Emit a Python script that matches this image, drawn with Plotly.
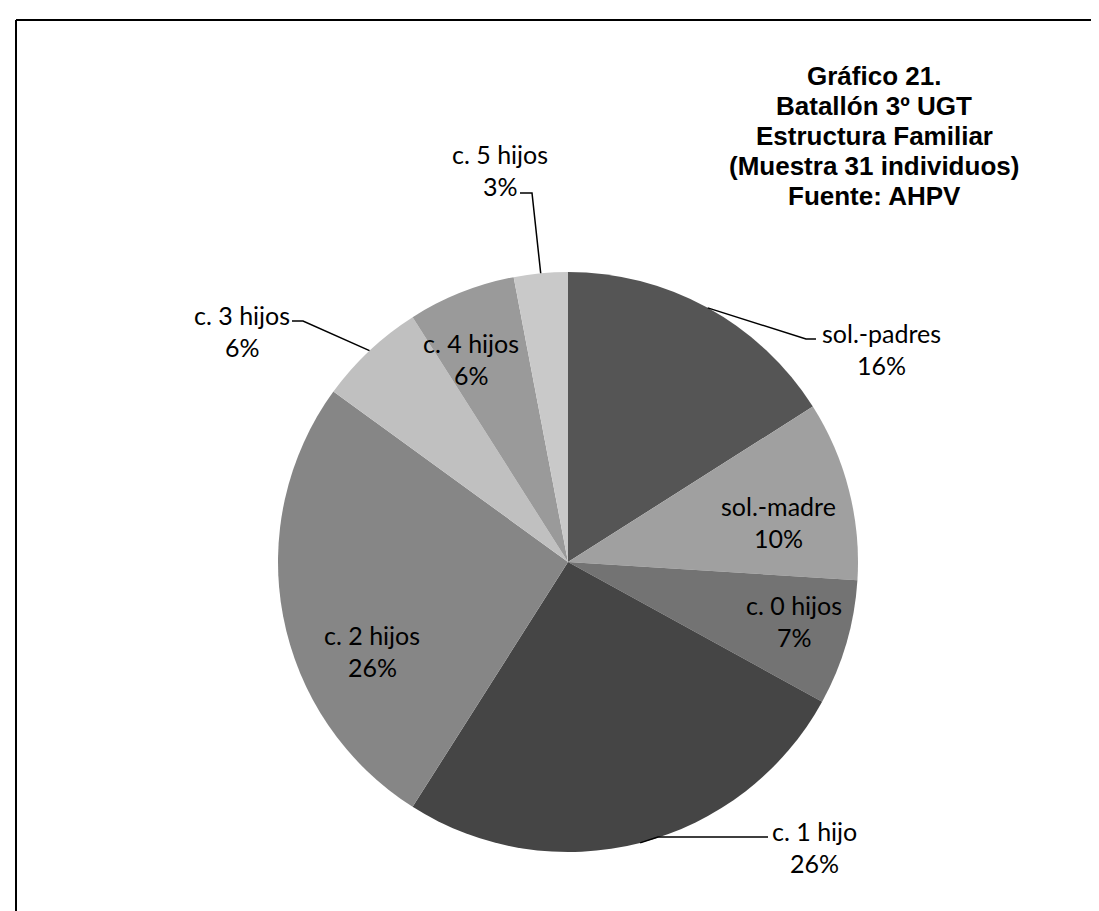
import numpy as np
import plotly.graph_objects as go

W, H = 1099, 911

# datos
categorias = ["sol.-padres", "sol.-madre", "c. 0 hijos", "c. 1 hijo",
              "c. 2 hijos", "c. 3 hijos", "c. 4 hijos", "c. 5 hijos"]
porcentajes = [16, 10, 7, 26, 26, 6, 6, 3]
titulo = ["Gráfico 21.", "Batallón 3º UGT", "Estructura Familiar",
          "(Muestra 31 individuos)", "Fuente: AHPV"]

colores = ["#555555", "#a0a0a0", "#737373", "#454545",
           "#868686", "#c0c0c0", "#9a9a9a", "#c9c9c9"]

# pie geometry in pixels
CX, CY, R = 560, 554, 290

# label placement (pixel centre of name line) and leader elbows for outside labels
etiquetas = {
    "sol.-padres": dict(pos=(873, 325), leader=[(798, 331), (808, 331)]),
    "sol.-madre": dict(pos=(770, 498)),
    "c. 0 hijos": dict(pos=(786, 597)),
    "c. 1 hijo": dict(pos=(806, 823), leader=[(650, 829), (760, 829)]),
    "c. 2 hijos": dict(pos=(364, 627)),
    "c. 3 hijos": dict(pos=(234, 307), leader=[(295, 313), (284, 313)]),
    "c. 4 hijos": dict(pos=(463, 335)),
    "c. 5 hijos": dict(pos=(492, 146), leader=[(524, 185), (512, 185)]),
}
LINE_GAP = 32
FONT = "Lato, 'Open Sans', sans-serif"
FONT_SIZE = 25


def px(x):
    return x / W


def py(y):
    return 1 - y / H


fig = go.Figure(go.Pie(
    labels=categorias,
    values=porcentajes,
    sort=False,
    direction="clockwise",
    rotation=0,
    textinfo="none",
    hoverinfo="label+percent",
    marker=dict(colors=colores, line=dict(width=0)),
    domain=dict(x=[px(CX - R), px(CX + R)], y=[py(CY + R), py(CY - R)]),
    showlegend=False,
))

annotations = []
shapes = []

total = sum(porcentajes)
acum = 0
for cat, val in zip(categorias, porcentajes):
    mid = (acum + val / 2) / total * 2 * np.pi
    acum += val
    cfg = etiquetas[cat]
    x, y = cfg["pos"]
    pct = f"{round(val / total * 100)}%"
    for k, txt in enumerate([cat, pct]):
        annotations.append(dict(x=px(x), y=py(y + k * LINE_GAP), xref="paper", yref="paper",
                                text=txt, showarrow=False, xanchor="center", yanchor="middle",
                                font=dict(family=FONT, size=FONT_SIZE, color="#000")))
    if "leader" in cfg:
        ex = CX + R * np.sin(mid)
        ey = CY - R * np.cos(mid)
        pts = [(ex, ey)] + cfg["leader"]
        path = "M " + " L ".join(f"{px(a):.5f},{py(b):.5f}" for a, b in pts)
        shapes.append(dict(type="path", path=path, xref="paper", yref="paper",
                           line=dict(color="#000", width=1.5)))

# title block
for i, linea in enumerate(titulo):
    annotations.append(dict(x=px(866), y=py(68 + i * 30), xref="paper", yref="paper",
                            text=f"<b>{linea}</b>", showarrow=False,
                            xanchor="center", yanchor="middle",
                            font=dict(family="Liberation Sans, Arial", size=26, color="#000")))

# chart frame (only top and left edges fall inside the picture)
shapes.append(dict(type="line", xref="paper", yref="paper",
                   x0=px(8), y0=py(12), x1=1, y1=py(12), line=dict(color="#000", width=2)))
shapes.append(dict(type="line", xref="paper", yref="paper",
                   x0=px(8), y0=py(12), x1=px(8), y1=0, line=dict(color="#000", width=2)))

fig.update_layout(
    width=W, height=H,
    margin=dict(l=0, r=0, t=0, b=0),
    paper_bgcolor="white",
    plot_bgcolor="white",
    annotations=annotations,
    shapes=shapes,
)

fig.write_html("out.html")
